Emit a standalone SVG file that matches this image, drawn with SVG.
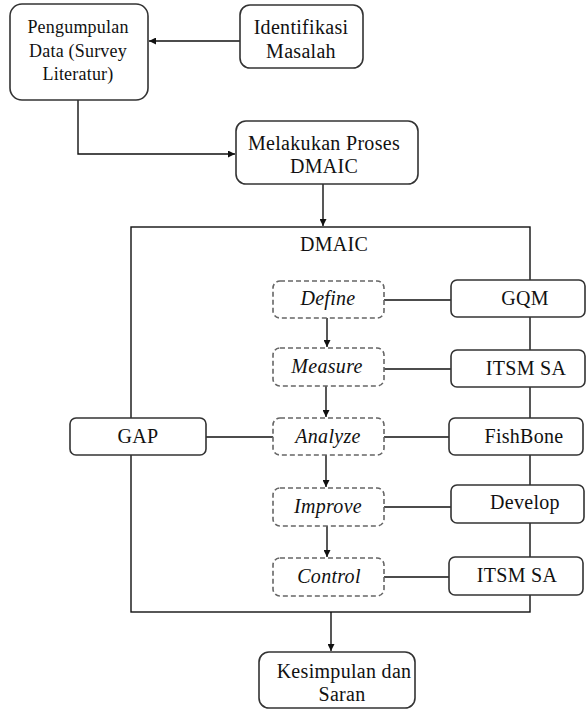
<svg xmlns="http://www.w3.org/2000/svg" width="586" height="713" viewBox="0 0 586 713">
<defs>
<marker id="arr" viewBox="0 0 10 10" refX="10" refY="5" markerWidth="7" markerHeight="7" orient="auto" markerUnits="userSpaceOnUse">
<path d="M0,0 L10,5 L0,10 z" fill="#111"/>
</marker>
<style>
.box{fill:#fff;stroke:#333;stroke-width:1.6}
.dbox{fill:#fff;stroke:#666;stroke-width:1.6;stroke-dasharray:5,3}
.ln{fill:none;stroke:#111;stroke-width:1.4}
.t{font-size:20px;letter-spacing:0.3px;fill:#111;text-anchor:middle}
.sm{font-size:18px;letter-spacing:0.2px}
.it{font-style:italic}
</style>
</defs>
<rect width="586" height="713" fill="#fff"/>
<g id="connectors">
<rect x="131" y="227" width="399" height="385" class="ln"/>
<line x1="240" y1="41" x2="149" y2="41" class="ln" marker-end="url(#arr)"/>
<polyline points="78,100 78,154 235,154" class="ln" marker-end="url(#arr)"/>
<line x1="323" y1="184" x2="323" y2="226" class="ln" marker-end="url(#arr)"/>
<line x1="384" y1="300" x2="451" y2="300" class="ln"/>
<line x1="384" y1="369" x2="451" y2="369" class="ln"/>
<line x1="206" y1="437" x2="273" y2="437" class="ln"/>
<line x1="384" y1="437" x2="449" y2="437" class="ln"/>
<line x1="384" y1="507" x2="451" y2="507" class="ln"/>
<line x1="384" y1="577" x2="449" y2="577" class="ln"/>
<line x1="327" y1="318" x2="327" y2="347" class="ln" marker-end="url(#arr)"/>
<line x1="326" y1="386" x2="326" y2="417" class="ln" marker-end="url(#arr)"/>
<line x1="326" y1="455" x2="326" y2="487" class="ln" marker-end="url(#arr)"/>
<line x1="327" y1="526" x2="327" y2="557" class="ln" marker-end="url(#arr)"/>
<line x1="331" y1="612" x2="331" y2="651" class="ln" marker-end="url(#arr)"/>
</g>
<g class="t" font-family="Liberation Serif, serif">
<g id="pengumpulan" class="sm">
<rect x="10" y="4" width="138" height="96" rx="12" class="box"/>
<text x="78" y="33">Pengumpulan</text>
<text x="78" y="57">Data (Survey</text>
<text x="78" y="80">Literatur)</text>
</g>
<g id="identifikasi">
<rect x="240" y="5" width="123" height="63" rx="10" class="box"/>
<text x="301" y="34">Identifikasi</text>
<text x="301" y="58">Masalah</text>
</g>
<g id="melakukan">
<rect x="236" y="121" width="182" height="63" rx="10" class="box"/>
<text x="324" y="150">Melakukan Proses</text>
<text x="324" y="173">DMAIC</text>
</g>
<g id="dmaic-label">
<text x="334" y="251">DMAIC</text>
</g>
<g id="define">
<rect x="273" y="281" width="111" height="37" rx="7" class="dbox"/>
<text x="328" y="305" class="it">Define</text>
</g>
<g id="measure">
<rect x="273" y="348" width="111" height="38" rx="7" class="dbox"/>
<text x="327" y="373" class="it">Measure</text>
</g>
<g id="analyze">
<rect x="273" y="418" width="111" height="37" rx="7" class="dbox"/>
<text x="328" y="443" class="it">Analyze</text>
</g>
<g id="improve">
<rect x="273" y="488" width="111" height="38" rx="7" class="dbox"/>
<text x="328" y="513" class="it">Improve</text>
</g>
<g id="control">
<rect x="273" y="558" width="111" height="38" rx="7" class="dbox"/>
<text x="329" y="583" class="it">Control</text>
</g>
<g id="gqm">
<rect x="451" y="280" width="134" height="37" rx="6" class="box"/>
<text x="525" y="305">GQM</text>
</g>
<g id="itsm1">
<rect x="451" y="350" width="134" height="37" rx="6" class="box"/>
<text x="526" y="375">ITSM SA</text>
</g>
<g id="fishbone">
<rect x="449" y="418" width="134" height="37" rx="6" class="box"/>
<text x="524" y="443">FishBone</text>
</g>
<g id="develop">
<rect x="451" y="485" width="133" height="38" rx="6" class="box"/>
<text x="525" y="509">Develop</text>
</g>
<g id="itsm2">
<rect x="449" y="557" width="134" height="38" rx="6" class="box"/>
<text x="517" y="582">ITSM SA</text>
</g>
<g id="gap">
<rect x="70" y="418" width="136" height="37" rx="6" class="box"/>
<text x="138" y="443">GAP</text>
</g>
<g id="kesimpulan">
<rect x="259" y="652" width="156" height="56" rx="10" class="box"/>
<text x="344" y="678">Kesimpulan dan</text>
<text x="342" y="701">Saran</text>
</g>
</g>
</svg>
